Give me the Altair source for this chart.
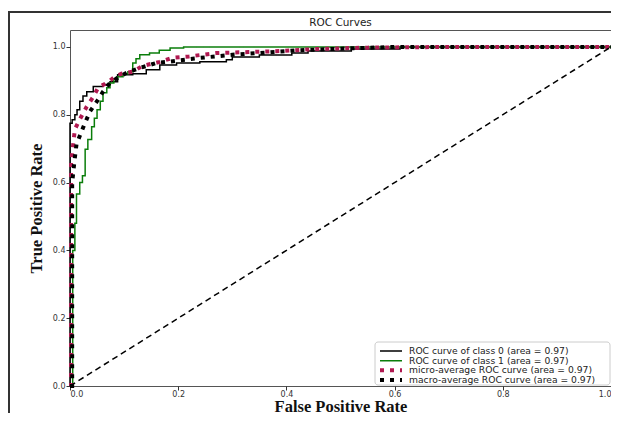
import altair as alt
import pandas as pd

series_names = [
    "ROC curve of class 0 (area = 0.97)",
    "ROC curve of class 1 (area = 0.97)",
    "micro-average ROC curve (area = 0.97)",
    "macro-average ROC curve (area = 0.97)",
]
series_colors = ["#000000", "#0a7d0a", "#b01850", "#000000"]
series_dashes = [[1, 0], [1, 0], [4, 6], [4, 6]]
series_widths = [1.5, 1.5, 4, 4]

class0_fpr = [0, 0, 0.004, 0.009, 0.013, 0.018, 0.024, 0.031, 0.043, 0.061, 0.074, 0.088,
              0.100, 0.116, 0.141, 0.166, 0.197, 0.24, 0.289, 0.30, 0.35, 0.41, 0.44, 0.52, 0.61, 1.0]
class0_tpr = [0, 0.775, 0.785, 0.80, 0.815, 0.84, 0.855, 0.868, 0.883, 0.889, 0.897, 0.918,
              0.918, 0.921, 0.933, 0.947, 0.953, 0.956, 0.962, 0.97, 0.976, 0.982, 0.988, 0.994, 1.0, 1.0]

class1_fpr = [0, 0.005, 0.005, 0.009, 0.012, 0.018, 0.023, 0.028, 0.033, 0.04, 0.045, 0.05, 0.056,
              0.061, 0.068, 0.074, 0.081, 0.088, 0.098, 0.107, 0.116, 0.122, 0.129, 0.147, 0.165,
              0.185, 0.21, 1.0]
class1_tpr = [0, 0.05, 0.40, 0.48, 0.566, 0.60, 0.62, 0.698, 0.727, 0.765, 0.79, 0.815, 0.84,
              0.865, 0.88, 0.894, 0.905, 0.912, 0.92, 0.927, 0.953, 0.965, 0.977, 0.982, 0.99,
              0.997, 1.0, 1.0]

micro_fpr = [0, 0.002, 0.002, 0.005, 0.009, 0.018, 0.031, 0.043, 0.052, 0.068, 0.083, 0.095, 0.116,
             0.134, 0.166, 0.19, 0.22, 0.27, 0.33, 0.39, 0.455, 0.55, 0.7, 1.0]
micro_tpr = [0, 0.0, 0.66, 0.70, 0.757, 0.786, 0.824, 0.853, 0.88, 0.894, 0.912, 0.921, 0.927,
             0.944, 0.956, 0.968, 0.972, 0.982, 0.985, 0.988, 0.994, 0.998, 1.0, 1.0]

macro_fpr = [0, 0.004, 0.004, 0.008, 0.012, 0.025, 0.037, 0.05, 0.061, 0.074, 0.088, 0.105, 0.129,
             0.16, 0.18, 0.23, 0.30, 0.36, 0.42, 0.5, 0.6, 1.0]
macro_tpr = [0, 0, 0.60, 0.66, 0.713, 0.765, 0.81, 0.84, 0.868, 0.894, 0.909, 0.924, 0.938,
             0.953, 0.956, 0.966, 0.977, 0.983, 0.99, 0.995, 1.0, 1.0]

diag_fpr = [0, 1]
diag_tpr = [0, 1]

tick_values = [0.0, 0.2, 0.4, 0.6, 0.8, 1.0]
chart_title = "ROC Curves"

PLOT_W, PLOT_H = 541, 356

rows = []
for name, fx, ty in zip(series_names,
                        [class0_fpr, class1_fpr, micro_fpr, macro_fpr],
                        [class0_tpr, class1_tpr, micro_tpr, macro_tpr]):
    for i, (a, b) in enumerate(zip(fx, ty)):
        rows.append({"series": name, "fpr": a, "tpr": b, "idx": i})
df = pd.DataFrame(rows)
diag_df = pd.DataFrame({"fpr": diag_fpr, "tpr": diag_tpr})
legend_df = pd.DataFrame({"series": series_names})

x_enc = alt.X("fpr:Q", scale=alt.Scale(domain=[0, 1], nice=False, zero=False),
              axis=alt.Axis(values=tick_values, format=".1f", title="False Positive Rate"))
y_enc = alt.Y("tpr:Q", scale=alt.Scale(domain=[0, 1.05], nice=False, zero=False),
              axis=alt.Axis(values=tick_values, format=".1f", title="True Positive Rate"))

color_enc = alt.Color("series:N", legend=None,
                      scale=alt.Scale(domain=series_names, range=series_colors))
dash_enc = alt.StrokeDash("series:N", legend=None,
                          scale=alt.Scale(type="ordinal", domain=series_names, range=series_dashes))
width_enc = alt.StrokeWidth("series:N", legend=None,
                            scale=alt.Scale(type="ordinal", domain=series_names, range=series_widths))

base = alt.Chart(df)

classes = base.transform_filter(
    alt.FieldOneOfPredicate(field="series", oneOf=series_names[:2])
).mark_line(interpolate="step-after").encode(
    x=x_enc, y=y_enc, color=color_enc, strokeDash=dash_enc, strokeWidth=width_enc,
    order=alt.Order("idx:Q"),
)

avgs = base.transform_filter(
    alt.FieldOneOfPredicate(field="series", oneOf=series_names[2:])
).mark_line(strokeCap="butt").encode(
    x=x_enc, y=y_enc, color=color_enc, strokeDash=dash_enc, strokeWidth=width_enc,
    order=alt.Order("idx:Q"),
)

diag = alt.Chart(diag_df).mark_line(color="black", strokeDash=[6, 4], strokeWidth=1.5).encode(
    x="fpr:Q", y="tpr:Q"
)

main = alt.layer(classes, avgs, diag)

# legend (lower right, inside the plot), rows placed by a point scale
leg_y = alt.Y("series:N", axis=None,
              scale=alt.Scale(type="point", domain=series_names,
                              range=[PLOT_H - 35, PLOT_H - 6], padding=0))
leg_box = alt.Chart(pd.DataFrame({"k": [0]})).mark_rect(
    fill="white", stroke="#cccccc", strokeWidth=1, cornerRadius=3
).encode(x=alt.value(305), x2=alt.value(PLOT_W - 1),
         y=alt.value(PLOT_H - 44), y2=alt.value(PLOT_H - 1))
leg_lines = alt.Chart(legend_df).mark_rule(strokeCap="butt").encode(
    x=alt.value(310), x2=alt.value(332), y=leg_y,
    color=color_enc, strokeDash=dash_enc, strokeWidth=width_enc,
)
leg_text = alt.Chart(legend_df).mark_text(
    align="left", baseline="middle", font="DejaVu Sans", fontSize=9.2, color="#222"
).encode(x=alt.value(339), y=leg_y, text="series:N")
legend_layer = alt.layer(leg_box, leg_lines, leg_text)

one_row = pd.DataFrame({"label": [chart_title]})
title_mark = alt.Chart(one_row).mark_text(
    font="DejaVu Sans", fontSize=10.5, color="#222", align="center", baseline="alphabetic"
).encode(x=alt.value(PLOT_W / 2), y=alt.value(-4), text="label:N")

frame_top = alt.Chart(one_row).mark_rule(color="#333", strokeWidth=2).encode(
    x=alt.value(-62), x2=alt.value(PLOT_W + 10), y=alt.value(-18)
)
frame_left = alt.Chart(one_row).mark_rule(color="#333", strokeWidth=2).encode(
    x=alt.value(-61), y=alt.value(-19), y2=alt.value(PLOT_H + 40)
)

chart = alt.layer(main, legend_layer, title_mark, frame_top, frame_left).resolve_scale(
    y="independent"
).properties(
    width=PLOT_W, height=PLOT_H,
    padding={"left": 62, "top": 22, "right": 0, "bottom": 27},
    autosize=alt.AutoSizeParams(type="none"),
).configure_view(
    stroke="#555", strokeWidth=1
).configure_axis(
    domain=False, grid=False, ticks=True, tickSize=4, tickColor="#333",
    labelFont="DejaVu Sans", labelFontSize=8, labelColor="#333", labelPadding=1,
    titleFont="Liberation Serif", titleFontSize=16.5, titleFontWeight="bold", titleColor="#111",
).configure_axisX(
    titleBaseline="alphabetic", titleY=25, labelPadding=0
).configure_axisY(
    titlePadding=8
)

chart.save("out.html", embed_options={"renderer": "svg", "actions": False})
